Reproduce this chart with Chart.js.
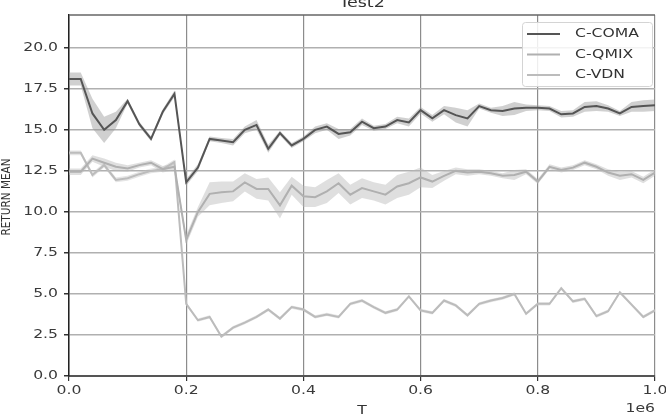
<!DOCTYPE html>
<html>
<head>
<meta charset="utf-8">
<script src="https://cdn.jsdelivr.net/npm/chart.js@4"></script>
<style>
html,body{margin:0;padding:0;background:#fff;}
</style>
</head>
<body>
<canvas id="c" width="666" height="414"></canvas>
<script>
// steps (x axis, in units of 1e6)
const T = [0.00,0.02,0.04,0.06,0.08,0.10,0.12,0.14,0.16,0.18,
           0.20,0.22,0.24,0.26,0.28,0.30,0.32,0.34,0.36,0.38,
           0.40,0.42,0.44,0.46,0.48,0.50,0.52,0.54,0.56,0.58,
           0.60,0.62,0.64,0.66,0.68,0.70,0.72,0.74,0.76,0.78,
           0.80,0.82,0.84,0.86,0.88,0.90,0.92,0.94,0.96,0.98,1.00];

const COMA = [18.1,18.1,16.0,15.0,15.6,16.75,15.35,14.45,16.1,17.2,
              11.8,12.7,14.45,14.35,14.25,15.0,15.3,13.85,14.8,14.05,
              14.45,15.0,15.2,14.75,14.85,15.5,15.1,15.2,15.6,15.45,
              16.2,15.7,16.2,15.9,15.7,16.45,16.2,16.15,16.3,16.35,
              16.35,16.3,15.95,16.0,16.4,16.45,16.3,16.0,16.4,16.45,16.5];
const QMIX = [12.45,12.45,13.25,13.0,12.75,12.65,12.85,13.0,12.6,12.75,
              8.3,10.0,11.1,11.2,11.25,11.8,11.4,11.4,10.4,11.6,
              10.95,10.9,11.25,11.75,11.05,11.45,11.25,11.05,11.55,11.75,
              12.1,11.85,12.2,12.5,12.4,12.45,12.35,12.2,12.25,12.45,
              11.85,12.75,12.55,12.7,13.0,12.75,12.4,12.2,12.3,11.95,12.4];
const VDN = [13.6,13.6,12.25,12.85,11.95,12.05,12.3,12.5,12.6,13.05,
             4.4,3.4,3.6,2.4,2.95,3.25,3.6,4.05,3.5,4.2,
             4.05,3.6,3.75,3.6,4.4,4.6,4.2,3.85,4.05,4.85,
             4.0,3.85,4.6,4.3,3.7,4.4,4.6,4.75,5.0,3.8,
             4.4,4.4,5.35,4.55,4.7,3.65,3.95,5.1,4.35,3.6,4.0];

// half-width of the shaded spread around each mean
const COMA_SPREAD = [0.4,0.4,0.9,0.8,0.5,0.15,0.15,0.15,0.15,0.2,
                     0.2,0.2,0.15,0.15,0.2,0.2,0.3,0.25,0.15,0.15,
                     0.15,0.2,0.2,0.3,0.2,0.2,0.15,0.15,0.2,0.25,
                     0.2,0.2,0.25,0.45,0.5,0.15,0.15,0.3,0.4,0.2,
                     0.15,0.15,0.2,0.2,0.3,0.3,0.2,0.15,0.3,0.35,0.35];
const QMIX_SPREAD = [0.2,0.2,0.2,0.25,0.25,0.2,0.15,0.15,0.2,0.2,
                     0.3,0.3,0.7,0.65,0.6,0.55,0.6,0.7,0.8,0.55,
                     0.65,0.6,0.7,0.6,0.6,0.6,0.55,0.6,0.7,0.7,
                     0.6,0.4,0.3,0.2,0.2,0.15,0.15,0.15,0.3,0.15,
                     0.15,0.15,0.15,0.15,0.15,0.15,0.2,0.25,0.2,0.2,0.2];
const VDN_SPREAD = [0.15,0.15,0.15,0.15,0.15,0.15,0.15,0.15,0.15,0.15,
                    0.1,0.1,0.1,0.1,0.1,0.1,0.1,0.1,0.1,0.1,
                    0.1,0.1,0.1,0.1,0.1,0.1,0.1,0.1,0.1,0.1,
                    0.1,0.1,0.1,0.1,0.1,0.1,0.1,0.1,0.1,0.1,
                    0.1,0.1,0.1,0.1,0.1,0.1,0.1,0.1,0.1,0.1,0.1];

const SERIES = [
  {label:'C-COMA', data:COMA, spread:COMA_SPREAD, color:'#555555', band:'rgba(150,150,150,0.45)'},
  {label:'C-QMIX', data:QMIX, spread:QMIX_SPREAD, color:'#b0b0b0', band:'rgba(185,185,185,0.45)'},
  {label:'C-VDN',  data:VDN,  spread:VDN_SPREAD,  color:'#bcbcbc', band:'rgba(190,190,190,0.4)'}
];

const FONT = '"DejaVu Sans", sans-serif';
const SX = 1.25; // reference is stretched horizontally

function pts(vals){ return T.map((t,i)=>({x:t,y:vals[i]})); }

const datasets = [];
SERIES.forEach((s,i)=>{
  datasets.push({label:s.label, data:pts(s.data), borderColor:s.color, borderWidth:2,
    pointRadius:0, tension:0, fill:false, order:i, isMain:true});
});
SERIES.forEach((s,i)=>{
  const lo = s.data.map((v,k)=>v-s.spread[k]);
  const hi = s.data.map((v,k)=>v+s.spread[k]);
  const loIdx = datasets.length;
  datasets.push({label:s.label+'_lo', data:pts(lo), borderColor:'transparent', borderWidth:0,
    pointRadius:0, tension:0, fill:false, order:20});
  datasets.push({label:s.label+'_hi', data:pts(hi), borderColor:'transparent', borderWidth:0,
    pointRadius:0, tension:0, fill:loIdx, backgroundColor:s.band, order:20});
});

function sText(ctx, txt, x, y, align, size, color){
  ctx.save();
  ctx.translate(x,y);
  ctx.scale(SX,1);
  ctx.font = size+'px '+FONT;
  ctx.fillStyle = color||'#333';
  ctx.textAlign = align;
  ctx.textBaseline = 'middle';
  ctx.fillText(txt,0,0);
  ctx.restore();
}

const decor = {
  id:'decor',
  afterDraw(chart){
    const ctx = chart.ctx, a = chart.chartArea;
    const xs = chart.scales.x, ys = chart.scales.y;
    // top border
    ctx.save();
    ctx.strokeStyle = '#666'; ctx.lineWidth = 1.5;
    ctx.beginPath(); ctx.moveTo(a.left,a.top); ctx.lineTo(a.right,a.top); ctx.stroke();
    ctx.restore();
    // tick labels
    ys.ticks.forEach(t=>sText(ctx, t.value.toFixed(1), 58, ys.getPixelForValue(t.value), 'right', 12.5, '#3a3a3a'));
    xs.ticks.forEach(t=>sText(ctx, t.value.toFixed(1), xs.getPixelForValue(t.value), 391, 'center', 12.5, '#3a3a3a'));
    // axis titles
    sText(ctx, 'T', (a.left+a.right)/2, 411, 'center', 12.5, '#333');
    sText(ctx, '1e6', a.right, 409, 'right', 12.5, '#3a3a3a');
    ctx.save();
    ctx.translate(7, 197);
    ctx.rotate(-Math.PI/2);
    ctx.scale(1,SX);
    ctx.font = '10.5px '+FONT; ctx.fillStyle = '#333';
    ctx.textAlign = 'center'; ctx.textBaseline = 'middle';
    ctx.fillText('RETURN MEAN',0,0);
    ctx.restore();
    // title
    ctx.save();
    ctx.translate((a.left+a.right)/2, 6.5);
    ctx.scale(SX,1);
    ctx.font = '14px '+FONT; ctx.fillStyle = '#333';
    ctx.textAlign = 'center'; ctx.textBaseline = 'alphabetic';
    ctx.fillText('Test2',0,0);
    ctx.restore();
    // legend
    const bx = 522, by = 22, bw = 130, bh = 64;
    ctx.save();
    ctx.fillStyle = 'rgba(255,255,255,0.85)';
    ctx.strokeStyle = '#d4d4d4'; ctx.lineWidth = 1;
    ctx.beginPath(); ctx.roundRect(bx+0.5,by+0.5,bw,bh,3); ctx.fill(); ctx.stroke();
    ctx.restore();
    chart.data.datasets.filter(d=>d.isMain).forEach((d,i)=>{
      const y = 34 + i*20.5;
      ctx.save();
      ctx.strokeStyle = d.borderColor; ctx.lineWidth = 2;
      ctx.beginPath(); ctx.moveTo(527,y); ctx.lineTo(560,y); ctx.stroke();
      ctx.restore();
      sText(ctx, d.label, 575, y, 'left', 12.5, '#333');
    });
  }
};

new Chart(document.getElementById('c'), {
  type:'line',
  data:{datasets},
  options:{
    responsive:false, animation:false, devicePixelRatio:1,
    layout:{padding:{left:0,right:11,top:15,bottom:0}},
    plugins:{legend:{display:false}, title:{display:false}, tooltip:{enabled:false}},
    scales:{
      x:{type:'linear', min:0, max:1,
         ticks:{stepSize:0.2, display:false},
         grid:{color:'#8c8c8c', lineWidth:1.2, tickLength:5, tickColor:'#333'},
         border:{color:'#555', width:2},
         afterFit(s){ s.height = 38; }},
      y:{min:0, max:22,
         ticks:{stepSize:2.5, display:false},
         afterBuildTicks(s){ s.ticks = s.ticks.filter(t=>t.value<=20.001); },
         grid:{color:'#b0b0b0', lineWidth:1.5, tickLength:5, tickColor:'#333'},
         border:{color:'#222', width:1.5},
         afterFit(s){ s.width = 69; }}
    }
  },
  plugins:[decor]
});
</script>
</body>
</html>
